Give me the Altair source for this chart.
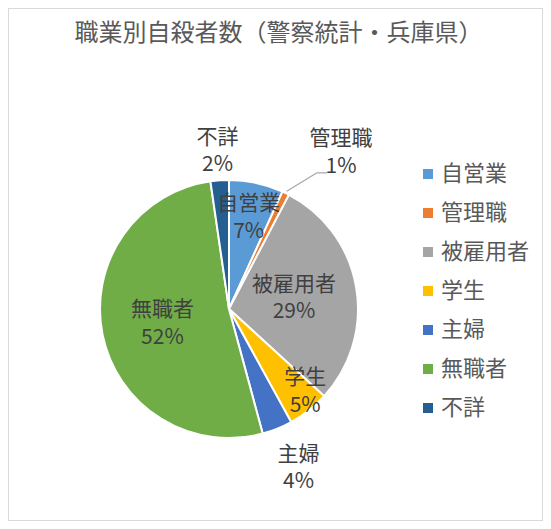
import altair as alt
import pandas as pd

# ---- data ----
categories = ["自営業", "管理職", "被雇用者", "学生", "主婦", "無職者", "不詳"]
shares = [6.8, 0.9, 29.1, 5.2, 3.8, 51.9, 2.3]
colors = ["#5B9BD5", "#ED7D31", "#A5A5A5", "#FFC000", "#4472C4", "#70AD47", "#255E91"]
title_text = "職業別自殺者数（警察統計・兵庫県）"

df = pd.DataFrame({"cat": categories, "value": shares, "idx": list(range(len(categories)))})

# ---- layout ----
W, H = 535, 513
CX, CY = 221, 301
R = 129
FONT = "Noto Sans CJK JP"
LH = 27.5  # line spacing of the two-line data labels

# label placement: (distance from centre, x nudge, y nudge)
placement = {
    "自営業": (93, 0, 0),
    "管理職": (175, 35, 1),
    "被雇用者": (66, 0, 1),
    "学生": (112, 7, -5),
    "主婦": (170, 6, 2),
    "無職者": (68, 0, 1),
    "不詳": (158, 0, 0),
}


def lookup_expr(pos):
    expr = "0"
    for k, v in placement.items():
        expr = f"datum.cat === '{k}' ? {v[pos]} : ({expr})"
    return expr


base = alt.Chart(df)

pie = base.mark_arc(outerRadius=R, stroke="white", strokeWidth=2).encode(
    theta=alt.Theta("value:Q", stack=True),
    order=alt.Order("idx:Q"),
    color=alt.Color(
        "cat:N",
        scale=alt.Scale(domain=categories, range=colors),
        sort=categories,
        legend=alt.Legend(
            title=None,
            orient="none",
            legendX=409,
            legendY=155,
            symbolType="square",
            symbolSize=100,
            symbolStrokeWidth=0,
            labelFont=FONT,
            labelFontSize=22,
            labelColor="#595959",
            labelOffset=2,
            rowPadding=17,
        ),
    ),
    x=alt.value(CX),
    y=alt.value(CY),
)

geo = (
    base.transform_joinaggregate(total="sum(value)")
    .transform_window(cum="sum(value)", sort=[alt.SortField("idx")], frame=[None, 0])
    .transform_calculate(mid="2*PI*(datum.cum - datum.value/2)/datum.total")
    .transform_calculate(
        lr=lookup_expr(0), ldx=lookup_expr(1), ldy=lookup_expr(2)
    )
    .transform_calculate(
        lx=f"{CX} + datum.lr*sin(datum.mid) + datum.ldx",
        ly=f"{CY} - datum.lr*cos(datum.mid) + datum.ldy",
        pct="format(datum.value/datum.total, '.0%')",
    )
)

text_style = dict(font=FONT, fontSize=21, color="#404040", align="center", baseline="middle")

names = geo.mark_text(dy=-LH / 2, **text_style).encode(
    x=alt.X("lx:Q", scale=None, axis=None),
    y=alt.Y("ly:Q", scale=None, axis=None),
    text="cat:N",
)
pcts = geo.mark_text(dy=LH / 2, **text_style).encode(
    x=alt.X("lx:Q", scale=None, axis=None),
    y=alt.Y("ly:Q", scale=None, axis=None),
    text="pct:N",
)

leader = geo.transform_filter("datum.cat === '管理職'").transform_calculate(
    x0=f"{CX} + {R + 2}*sin(datum.mid)",
    y0=f"{CY} - {R + 2}*cos(datum.mid)",
    x1="datum.lx - 24",
    y1="datum.ly + 20",
    x2="datum.lx - 14",
)

leader1 = leader.mark_rule(color="#A6A6A6", strokeWidth=1.2).encode(
    x=alt.X("x0:Q", scale=None, axis=None),
    y=alt.Y("y0:Q", scale=None, axis=None),
    x2="x1:Q",
    y2="y1:Q",
)
leader2 = leader.mark_rule(color="#A6A6A6", strokeWidth=1.2).encode(
    x=alt.X("x1:Q", scale=None, axis=None),
    y=alt.Y("y1:Q", scale=None, axis=None),
    x2="x2:Q",
    y2="y1:Q",
)

chart = (
    alt.layer(pie, leader1, leader2, names, pcts)
    .properties(
        width=W,
        height=H,
        padding=0,
        autosize=alt.AutoSizeParams(type="none"),
        background="white",
        title=alt.TitleParams(
            title_text,
            font=FONT,
            fontSize=24,
            fontWeight="normal",
            color="#595959",
            anchor="middle",
            frame="group",
            baseline="middle",
            offset=0,
            dy=50,
            dx=3,
        ),
    )
    .configure_view(stroke="#D9D9D9", strokeWidth=2)
)

chart.save("out.html", embed_options={"renderer": "svg", "actions": False})
